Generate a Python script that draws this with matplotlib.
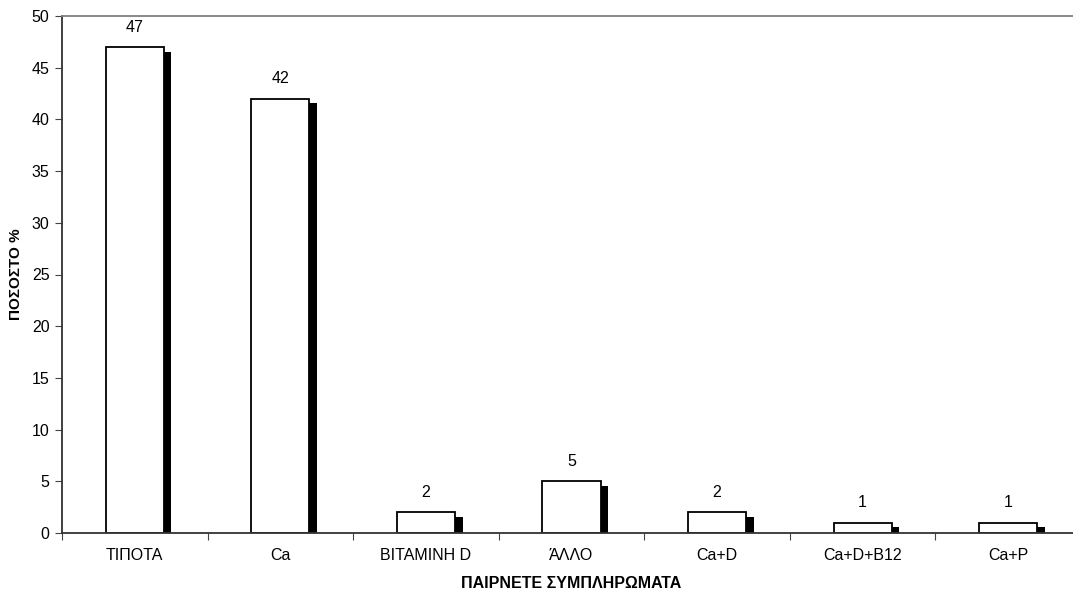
import numpy as np
import matplotlib.pyplot as plt

plt.rcParams['font.family'] = ['Liberation Sans', 'DejaVu Sans']

# data
categories = ['ΤΙΠΟΤΑ', 'Ca', 'ΒΙΤΑΜΙΝΗ D', 'ΆΛΛΟ', 'Ca+D', 'Ca+D+B12', 'Ca+P']
values = [47, 42, 2, 5, 2, 1, 1]

fig = plt.figure(figsize=(10.73, 5.96), dpi=100)
ax = fig.add_axes([62/1073, 1 - 533/596, (1081 - 62)/1073, (533 - 16)/596])

x = np.arange(len(categories))
w = 0.4
sw = 0.052  # shadow width
vals = np.array(values, dtype=float)

# shadow bars (black, offset to the right, slightly lower)
ax.bar(x + w/2 + sw/2, vals - 0.45, width=sw, color='black', zorder=1)
# main white bars
ax.bar(x, vals, width=w, color='white', edgecolor='black', linewidth=1.3, zorder=2)

for xi, v in zip(x, values):
    ax.annotate(str(v), (xi, v), xytext=(0, 9), textcoords='offset points',
                ha='center', va='bottom', fontsize=11.5)

ax.set_xlim(-0.5, len(categories) - 0.5)
ax.set_ylim(0, 50)
ax.set_yticks(range(0, 51, 5))

# ticks at category boundaries, labels at centres
ax.set_xticks(np.arange(-0.5, len(categories), 1.0))
ax.set_xticklabels([])
ax.set_xticks(x, minor=True)
ax.set_xticklabels(categories, minor=True)
ax.tick_params(axis='x', which='minor', length=0, pad=11, labelsize=11.5)
ax.tick_params(axis='x', which='major', length=5, direction='out', color='#444444')
ax.tick_params(axis='y', length=5, direction='out', labelsize=11.5, color='#444444', pad=4)

for s in ['left', 'bottom']:
    ax.spines[s].set_color('#333333')
    ax.spines[s].set_linewidth(1.3)
ax.spines['top'].set_color('#808080')
ax.spines['top'].set_linewidth(1.3)
ax.spines['right'].set_visible(False)

ax.set_ylabel('ΠΟΣΟΣΤΟ %', fontsize=11, fontweight='bold', labelpad=6)
ax.set_xlabel('ΠΑΙΡΝΕΤΕ ΣΥΜΠΛΗΡΩΜΑΤΑ', fontsize=11.5, fontweight='bold', labelpad=9)

fig.savefig('out.png', dpi=100)
